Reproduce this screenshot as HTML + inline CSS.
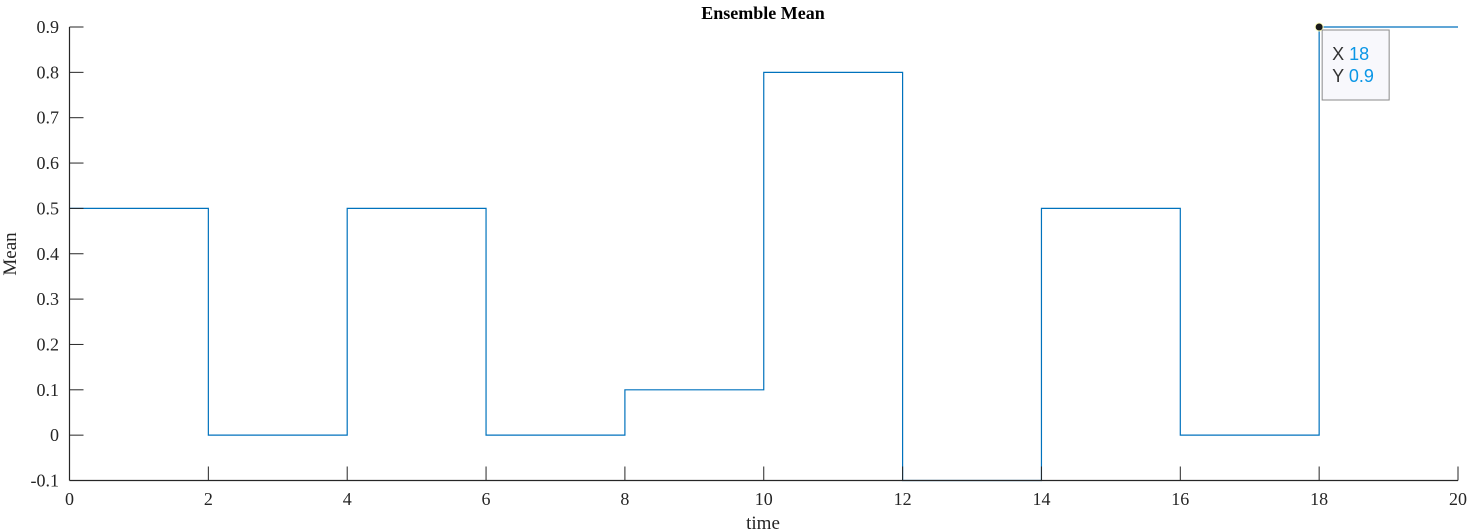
<!DOCTYPE html>
<html><head><meta charset="utf-8"><style>
body{margin:0;background:#fff;}
svg{display:block;font-family:"Liberation Serif",serif;}
</style></head><body>
<svg id="chart" width="1471" height="532" viewBox="0 0 1471 532" xmlns="http://www.w3.org/2000/svg">
<text x="763" y="19" text-anchor="middle" font-size="18" font-weight="bold">Ensemble Mean</text>
<g id="grid"></g>
<g id="series"></g>
<g id="axes"></g>
<text x="763" y="529" text-anchor="middle" font-size="19" fill="#262626">time</text>
<text transform="translate(16,254) rotate(-90)" text-anchor="middle" font-size="19" fill="#262626">Mean</text>
</svg>
<script>
const xTicks=[0,2,4,6,8,10,12,14,16,18,20];
const yTicks=[-0.1,0,0.1,0.2,0.3,0.4,0.5,0.6,0.7,0.8,0.9];
const stepTimes=[0,2,4,6,8,10,12,14,16,18];
const stepValues=[0.5,0,0.5,0,0.1,0.8,-0.1,0.5,0,0.9];
const xMax=20;
const tipX=18, tipY=0.9;
const NS="http://www.w3.org/2000/svg";
const L=69.5,R=1458,T=27,B=480.5;
const xs=v=>L+(v-0)/(20-0)*(R-L);
const ys=v=>B-(v+0.1)/(1.0)*(B-T);
function mk(tag,attrs,parent){const e=document.createElementNS(NS,tag);for(const k in attrs)e.setAttribute(k,attrs[k]);parent.appendChild(e);return e;}
const axes=document.getElementById('axes');
const series=document.getElementById('series');
let xl=mk('line',{x1:L,y1:B,x2:R,y2:B,stroke:'#262626','stroke-width':1.2},axes);


let yl=mk('line',{x1:L,y1:B,x2:L,y2:T,stroke:'#262626','stroke-width':1.2},axes);


xTicks.forEach(v=>{
  const x=xs(v);
  const t=mk('line',{x1:x,y1:B,x2:x,y2:B-14,stroke:'#262626','stroke-width':1},axes);
  
  
  const lb=mk('text',{x:x,y:505,'text-anchor':'middle','font-size':18,fill:'#262626'},axes);
  lb.textContent=String(v);
  
  
});
yTicks.forEach(v=>{
  const y=ys(v);
  const t=mk('line',{x1:L,y1:y,x2:L+14,y2:y,stroke:'#262626','stroke-width':1},axes);
  
  
  const lb=mk('text',{x:59,y:y+6,'text-anchor':'end','font-size':18,fill:'#262626'},axes);
  lb.textContent=(Math.round(v*10)/10).toString();
  
  
});
let d='';
stepTimes.forEach((t,i)=>{
  const end=i+1<stepTimes.length?stepTimes[i+1]:xMax;
  d+=(i===0?'M':'L')+xs(t)+','+ys(stepValues[i])+' L'+xs(end)+','+ys(stepValues[i])+' ';
});
const p=mk('path',{d:d,fill:'none',stroke:'#0072BD','stroke-width':1.2},series);


const tx=xs(tipX),ty=ys(tipY);
const dot=mk('circle',{cx:tx,cy:ty,r:4,fill:'#1a1a1a',stroke:'#ffffc0','stroke-width':1},series);


const g=mk('g',{},series);


mk('rect',{x:tx+3,y:ty+3,width:67,height:70,fill:'#f8f8fc',stroke:'#8a8a8a','stroke-width':1},g);
const t1=mk('text',{x:tx+13,y:ty+33,'font-size':18,'font-family':'Liberation Sans, sans-serif',fill:'#333'},g);
t1.innerHTML='X <tspan fill="#0a96e6">'+tipX+'</tspan>';
const t2=mk('text',{x:tx+13,y:ty+55,'font-size':18,'font-family':'Liberation Sans, sans-serif',fill:'#333'},g);
t2.innerHTML='Y <tspan fill="#0a96e6">'+tipY+'</tspan>';
</script>
</body></html>
